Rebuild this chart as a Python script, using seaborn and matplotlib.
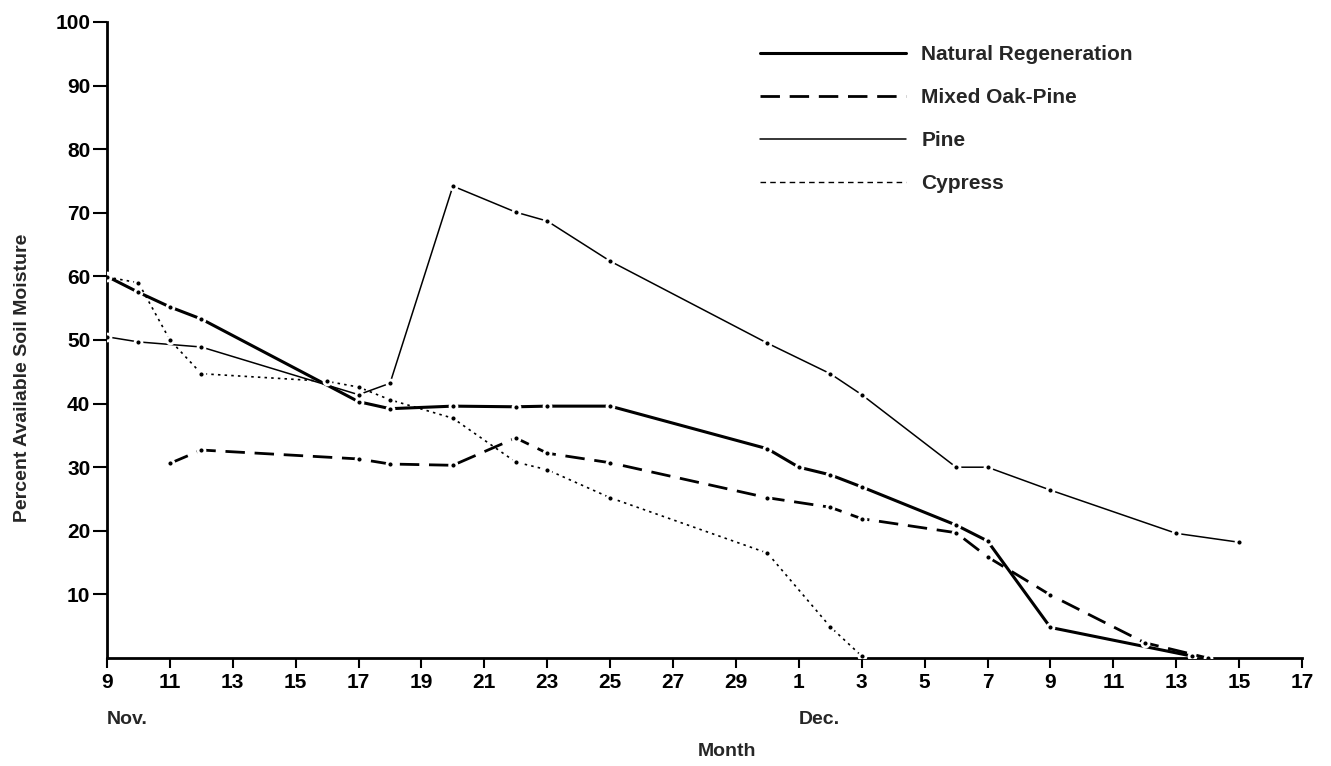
import numpy as np
import pandas as pd
import matplotlib
matplotlib.use("Agg")
import matplotlib.pyplot as plt
from matplotlib.lines import Line2D
import matplotlib.transforms as mtransforms
import seaborn as sns

# ---- data (day index: 0 = Nov 9, 22 = Dec 1) ----
tick_days = list(range(0, 39, 2))
tick_labels = ["9", "11", "13", "15", "17", "19", "21", "23", "25", "27", "29",
               "1", "3", "5", "7", "9", "11", "13", "15", "17"]
y_ticks = [10, 20, 30, 40, 50, 60, 70, 80, 90, 100]

nr_days = [0, 1, 2, 3, 8, 9, 11, 13, 14, 16, 21, 22, 23, 24, 27, 28, 30, 34.5]
nr_vals = [60.0, 57.5, 55.2, 53.3, 40.3, 39.2, 39.6, 39.5, 39.6, 39.6, 32.9, 30.0,
           28.8, 26.9, 20.9, 18.4, 4.8, 0.3]

mop_days = [2, 3, 8, 9, 11, 13, 14, 16, 21, 23, 24, 27, 28, 30, 33, 35]
mop_vals = [30.6, 32.7, 31.3, 30.5, 30.3, 34.6, 32.2, 30.7, 25.2, 23.7, 21.9, 19.7,
            15.9, 9.9, 2.4, 0.0]

pine_days = [0, 1, 3, 8, 9, 11, 13, 14, 16, 21, 23, 24, 27, 28, 30, 34, 36]
pine_vals = [50.5, 49.7, 48.9, 41.4, 43.2, 74.2, 70.1, 68.7, 62.4, 49.5, 44.7, 41.4,
             30.0, 30.0, 26.4, 19.6, 18.2]

cyp_days = [0, 1, 2, 3, 7, 8, 9, 11, 13, 14, 16, 21, 23, 24]
cyp_vals = [59.9, 59.0, 50.0, 44.7, 43.5, 42.6, 40.6, 37.7, 30.8, 29.6, 25.2, 16.5,
            4.9, 0.3]

series_names = ["Natural Regeneration", "Mixed Oak-Pine", "Pine", "Cypress"]

sns.set_theme(style="ticks")
plt.rcParams["font.family"] = ["Liberation Sans", "DejaVu Sans"]
plt.rcParams["font.weight"] = "bold"

W, H = 1331, 766
fig = plt.figure(figsize=(W / 100, H / 100), dpi=100)
ax = fig.add_axes([107 / W, 1 - 658 / H, (1302 - 107) / W, (658 - 22) / H])

styles = [
    dict(lw=2.2, ls="-"),
    dict(lw=2.0, ls=(0, (7, 3.5))),
    dict(lw=1.1, ls="-"),
    dict(lw=1.2, ls=(0, (1.5, 2.5))),
]
data = [(nr_days, nr_vals), (mop_days, mop_vals), (pine_days, pine_vals), (cyp_days, cyp_vals)]

for (d, v), st in zip(data, styles):
    sns.lineplot(x=d, y=v, ax=ax, color="black", linewidth=st["lw"], linestyle=st["ls"],
                 marker="o", markersize=5, markerfacecolor="black",
                 markeredgecolor="white", markeredgewidth=2.0, legend=False,
                 zorder=3)

ax.set_xlim(0, 38)
ax.set_ylim(0, 100)
ax.set_xticks(tick_days)
ax.set_xticklabels(tick_labels)
ax.set_yticks(y_ticks)
ax.set_yticklabels([str(t) for t in y_ticks])
for s in ["top", "right"]:
    ax.spines[s].set_visible(False)
for s in ["left", "bottom"]:
    ax.spines[s].set_linewidth(2.0)
    ax.spines[s].set_color("black")
ax.tick_params(axis="y", direction="out", length=10, width=1.5, labelsize=15, pad=2, colors="black")
ax.tick_params(axis="x", direction="out", length=7, width=1.5, labelsize=15, pad=4, colors="black")
ax.grid(False)

ax.set_ylabel("Percent Available Soil Moisture", fontsize=14, fontweight="bold")
ax.yaxis.set_label_coords(-0.064, 0.44)
ax.set_xlabel("Month", fontsize=14, fontweight="bold")
ax.xaxis.set_label_coords((727 - 107) / 1195, -0.134)

trans = mtransforms.blended_transform_factory(ax.transData, ax.transAxes)
ax.text(0, -0.097, "Nov.", transform=trans, ha="left", va="center", fontsize=14, fontweight="bold")
ax.text(22, -0.097, "Dec.", transform=trans, ha="left", va="center", fontsize=14, fontweight="bold")

handles = [Line2D([], [], color="black", linewidth=st["lw"] if i != 3 else 1.0,
                  linestyle=st["ls"] if i != 3 else (0, (4, 3)))
           for i, st in enumerate(styles)]
ax.legend(handles, series_names, loc="upper left", bbox_to_anchor=((760 - 107) / 1195, 1 - (45 - 22) / 636),
          frameon=False, handlelength=7.0, handletextpad=0.75, labelspacing=1.15,
          borderaxespad=0, borderpad=0,
          prop={"size": 15, "weight": "bold"})

fig.savefig("out.png", dpi=100)
